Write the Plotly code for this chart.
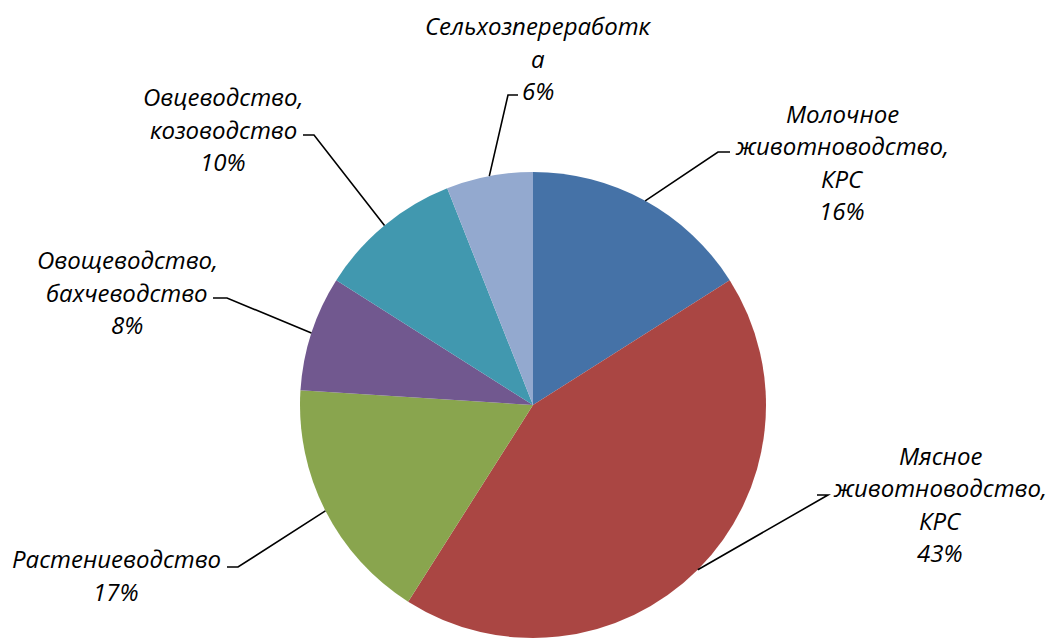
import numpy as np
import plotly.graph_objects as go

labels = ["Молочное<br>животноводство,<br>КРС", "Мясное<br>животноводство,<br>КРС",
          "Растениеводство", "Овощеводство,<br>бахчеводство",
          "Овцеводство,<br>козоводство", "Сельхозпереработк<br>а"]
values = [16, 43, 17, 8, 10, 6]
colors = ["#4572A7", "#AA4643", "#89A54E", "#71588F", "#4198AF", "#93A9CF"]

# label placement (pixels): text centre, elbow of leader line, short horizontal end
text_pos = [(842, 162), (940, 504), (116, 575), (127, 292), (223, 129), (538, 58)]
elbow = [(718, 152), (828, 495), (238, 567), (227, 298), (314, 135), (508, 95)]
tail = [(730, 152), (817, 495), (227, 567), (213, 298), (303, 135), (518, 95)]

W, H = 1054, 639
OFF = 8  # page body margin
cx, cy, r = 533, 405, 233
LINE = 32.5

fig = go.Figure()
fig.add_trace(go.Pie(
    labels=labels, values=values, sort=False, direction="clockwise", rotation=0,
    marker=dict(colors=colors, line=dict(width=0)), textinfo="none",
    hoverinfo="label+percent", showlegend=False,
    domain=dict(x=[(cx - OFF - r) / W, (cx - OFF + r) / W],
                y=[(H - (cy - OFF) - r) / H, (H - (cy - OFF) + r) / H]),
))

total = sum(values)
cum = np.cumsum([0] + values)
for i, v in enumerate(values):
    mid = (cum[i] + v / 2) / total * 2 * np.pi
    px, py = cx + r * np.sin(mid), cy - r * np.cos(mid)
    ex, ey = elbow[i]
    tx, ty = tail[i]
    fig.add_shape(type="path", xref="x", yref="y",
                  path=f"M {px:.1f} {py:.1f} L {ex} {ey} L {tx} {ty}",
                  line=dict(color="black", width=1.6))
    pct = round(v / total * 100)
    lines = labels[i].split("<br>") + [f"{pct}%"]
    n = len(lines)
    for k, s in enumerate(lines):
        fig.add_annotation(x=text_pos[i][0], y=text_pos[i][1] + (k - (n - 1) / 2) * LINE,
                           xref="x", yref="y", text=f"<i>{s}</i>", showarrow=False,
                           font=dict(family="Open Sans", size=24, color="black"),
                           xanchor="center", yanchor="middle", borderpad=0)

fig.update_layout(
    width=W, height=H, margin=dict(l=0, r=0, t=0, b=0),
    plot_bgcolor="white", paper_bgcolor="white",
    xaxis=dict(range=[OFF, W + OFF], visible=False),
    yaxis=dict(range=[H + OFF, OFF], visible=False),
)
fig.write_html("out.html")
